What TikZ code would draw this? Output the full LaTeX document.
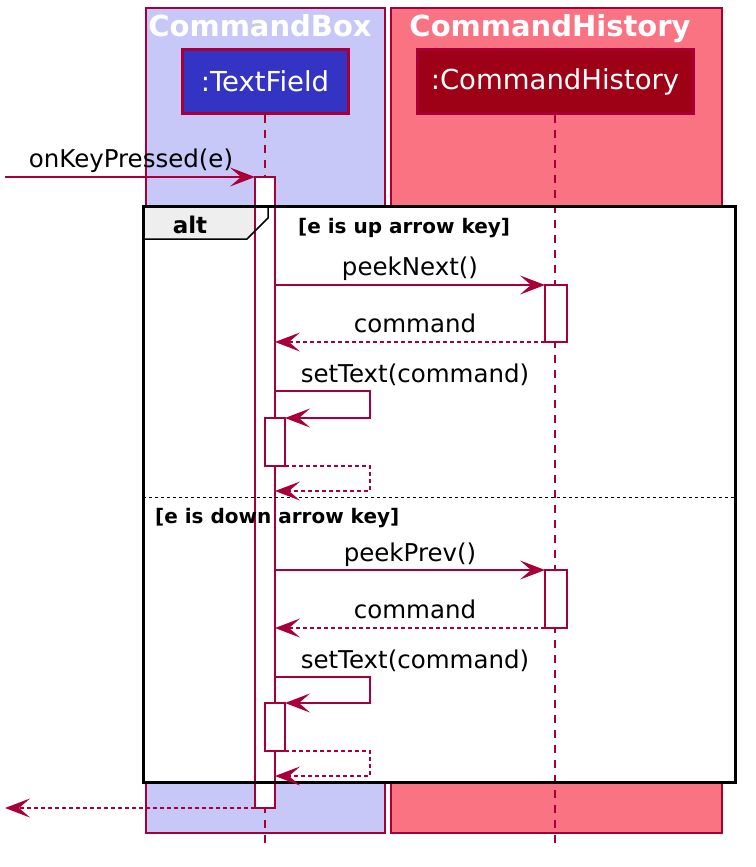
\documentclass[tikz,border=0pt]{standalone}
\usepackage{fontspec}
\setmainfont{DejaVu Sans}
\usetikzlibrary{arrows.meta}
\definecolor{bord}{HTML}{A80036}
\definecolor{boxA}{HTML}{C8C8F8}
\definecolor{boxB}{HTML}{FA7383}
\definecolor{partA}{HTML}{3434C4}
\definecolor{partB}{HTML}{9E0016}
\definecolor{tabfill}{HTML}{EEEEEE}
\tikzset{
  grpbox/.style={draw=bord, line width=1.5pt},
  grptitle/.style={text=white, font=\bfseries\fontsize{29}{31}\selectfont, anchor=base, inner sep=0pt},
  part/.style={draw=bord, line width=3pt, text=white, font=\fontsize{27.5}{29}\selectfont, inner sep=0pt},
  life/.style={draw=bord, line width=1.4pt, dash pattern=on 8pt off 7pt},
  act/.style={draw=bord, fill=white, line width=1.4pt},
  msg/.style={draw=bord, line width=1.5pt, -{Stealth[length=25pt,width=19pt,inset=11pt,bord]}},
  ret/.style={msg, dash pattern=on 4pt off 3pt},
  lbl/.style={font=\fontsize{24.5}{26}\selectfont, anchor=base, inner sep=0pt},
  guard/.style={font=\bfseries\fontsize{20}{22}\selectfont, anchor=base west, inner sep=0pt},
}
\begin{document}
\begin{tikzpicture}[x=1pt,y=-1pt]
\useasboundingbox (0,0) rectangle (755,867);
\fill[white] (0,0) rectangle (755,867);
% group boxes
\draw[grpbox, fill=boxA] (146,8) rectangle (385,833);
\draw[grpbox, fill=boxB] (391,8) rectangle (722,833);
\node[grptitle] (tA) at (260,37) {CommandBox};
\node[grptitle] (tB) at (550,37) {CommandHistory};
% participants
\node[part, fill=partA, minimum width=166pt, minimum height=63pt] (tf) at (265,81.5) {:TextField};
\node[part, fill=partB, minimum width=276pt, minimum height=63pt] (ch) at (555,81.5) {:CommandHistory};
% alt frame background
\fill[white] (143,206) rectangle (735,782);
\fill[tabfill] (143,206) -- (268,206) -- (268,218) -- (247,239) -- (143,239) -- cycle;
% lifelines
\coordinate (tfend) at (265,845);
\coordinate (chend) at (555,845);
\draw[life] (tf.south) -- (tfend);
\draw[life] (ch.south) -- (chend);
% activations
\draw[act] (255,177) rectangle (275,808);
\draw[act] (545,285) rectangle (567,342);
\draw[act] (265,418) rectangle (285,466);
\draw[act] (545,570) rectangle (567,628);
\draw[act] (265,703) rectangle (285,751);
% frame border
\draw[line width=3pt] (143,206) rectangle (735,782);
\draw[line width=1.5pt] (268,206) -- (268,218) -- (247,239) -- (143,239);
\draw[line width=1pt, dash pattern=on 3pt off 3pt] (143,497) -- (735,497);
\node[font=\bfseries\fontsize{23}{25}\selectfont, anchor=base, inner sep=0pt] (alt) at (190,233) {alt};
\node[guard] (g1) at (298,233) {[e is up arrow key]};
\node[guard] (g2) at (155,523) {[e is down arrow key]};
% coordinates for messages
\coordinate (in0) at (5,177);   \coordinate (a0) at (255,177);
\coordinate (s1) at (275,285);  \coordinate (e1) at (545,285);
\coordinate (r1s) at (545,342); \coordinate (r1e) at (275,342);
\coordinate (s2) at (275,391);  \coordinate (e2) at (285,418);
\coordinate (r2s) at (285,466); \coordinate (r2e) at (275,491);
\coordinate (s3) at (275,570);  \coordinate (e3) at (545,570);
\coordinate (r3s) at (545,628); \coordinate (r3e) at (275,628);
\coordinate (s4) at (275,677);  \coordinate (e4) at (285,703);
\coordinate (r4s) at (285,751); \coordinate (r4e) at (275,776);
\coordinate (fin) at (255,808); \coordinate (out0) at (5,808);
% messages
\draw[msg] (in0) -- (a0);
\node[lbl] (l0) at (131,167) {onKeyPressed(e)};
\draw[msg] (s1) -- (e1);
\node[lbl] (l1) at (410,275) {peekNext()};
\draw[ret] (r1s) -- (r1e);
\node[lbl] (l2) at (415,332) {command};
\draw[msg] (s2) -- (370,391) -- (370,418) -- (e2);
\node[lbl] (l3) at (415,382) {setText(command)};
\draw[ret] (r2s) -- (370,466) -- (370,491) -- (r2e);
\draw[msg] (s3) -- (e3);
\node[lbl] (l4) at (410,561) {peekPrev()};
\draw[ret] (r3s) -- (r3e);
\node[lbl] (l5) at (415,618) {command};
\draw[msg] (s4) -- (370,677) -- (370,703) -- (e4);
\node[lbl] (l6) at (415,668) {setText(command)};
\draw[ret] (r4s) -- (370,751) -- (370,776) -- (r4e);
\draw[ret] (fin) -- (out0);
\end{tikzpicture}
\end{document}
